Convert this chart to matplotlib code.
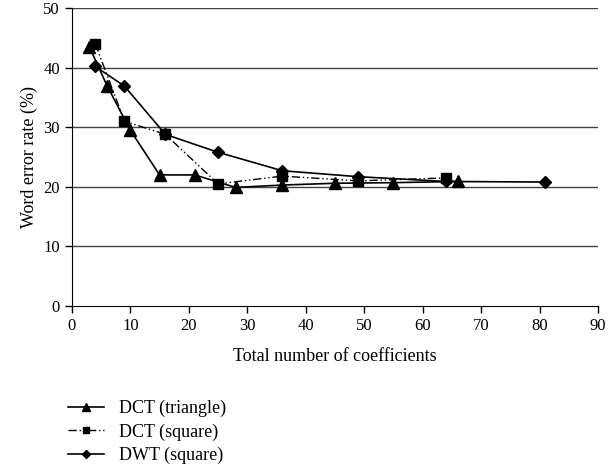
import matplotlib.pyplot as plt

# word error rate vs. number of coefficients
tri_x = [3, 6, 10, 15, 21, 28, 36, 45, 55, 66]
tri_y = [43.5, 37.0, 29.5, 22.0, 22.0, 19.9, 20.3, 20.6, 20.7, 20.9]

sq_x = [4, 9, 16, 25, 36, 49, 64]
sq_y = [44.0, 31.0, 28.8, 20.5, 21.8, 21.0, 21.5]

dwt_x = [4, 9, 16, 25, 36, 49, 64, 81]
dwt_y = [40.2, 36.9, 28.8, 25.8, 22.7, 21.7, 20.9, 20.8]

plt.rcParams['font.family'] = ['Liberation Serif', 'DejaVu Serif']
plt.rcParams['font.size'] = 12

fig = plt.figure(figsize=(6.09, 4.73), dpi=100)
ax = fig.add_axes([0.118, 0.353, 0.864, 0.630])

for y in range(10, 51, 10):
    ax.axhline(y, color='#444444', lw=1.0, zorder=0)

l1, = ax.plot(tri_x, tri_y, '-', color='black', lw=1.2, marker='^', ms=8)
l2, = ax.plot(sq_x, sq_y, color='black', lw=1.0, marker='s', ms=7,
              linestyle=(0, (6, 2, 1, 2, 1, 2)))
l3, = ax.plot(dwt_x, dwt_y, '-', color='black', lw=1.2, marker='D', ms=6)

ax.set_xlim(0, 90)
ax.set_ylim(0, 50)
ax.set_xticks(range(0, 91, 10))
ax.set_yticks(range(0, 51, 10))
ax.spines['top'].set_visible(False)
ax.spines['right'].set_visible(False)
ax.tick_params(direction='out', length=5, width=1, labelsize=12)
ax.set_xlabel('Total number of coefficients', fontsize=13, labelpad=10)
ax.set_ylabel('Word error rate (%)', fontsize=13)

fig.legend([l1, l2, l3], ['DCT (triangle)', 'DCT (square)', 'DWT (square)'],
           loc='upper left', bbox_to_anchor=(0.1, 0.17), frameon=False,
           fontsize=13, handlelength=2.0, labelspacing=0.35, markerscale=0.7,
           borderaxespad=0)

fig.savefig('out.png', dpi=100)
